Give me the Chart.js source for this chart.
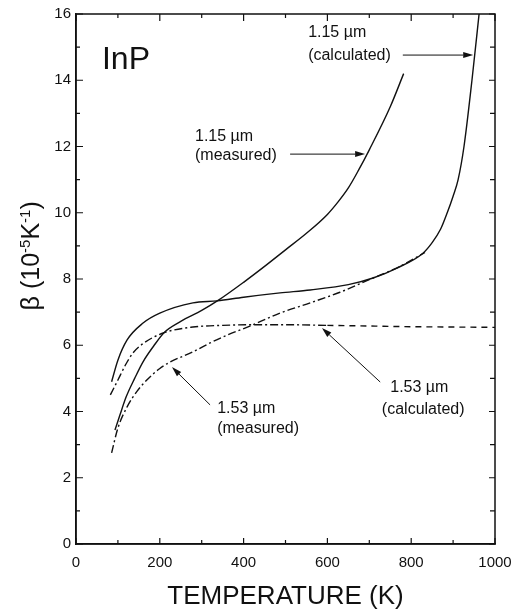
<!DOCTYPE html>
<html><head><meta charset="utf-8">
<script src="https://cdn.jsdelivr.net/npm/chart.js@4/dist/chart.umd.min.js"></script>
<style>html,body{margin:0;padding:0;background:#fff}canvas{display:block}</style>
</head><body>
<canvas id="c" width="513" height="611"></canvas>
<script>
// ---- data (temperature in K, beta in 1e-5 K^-1) ----
const xTickValues = [0, 200, 400, 600, 800, 1000];
const yTickValues = [0, 2, 4, 6, 8, 10, 12, 14, 16];

const meas115T = [93, 105, 120, 140, 160, 185, 210, 250, 300, 340, 400, 450, 500, 550, 600, 625, 650, 675, 700, 750, 782];
const meas115B = [3.44, 3.9, 4.45, 5.0, 5.5, 5.97, 6.38, 6.72, 7.05, 7.36, 7.9, 8.38, 8.88, 9.38, 9.95, 10.32, 10.75, 11.3, 11.9, 13.2, 14.2];

const calc115T = [85, 100, 122, 160, 200, 279, 337, 400, 487, 559, 650, 709, 766, 828, 850, 870, 886, 900, 912, 926, 945, 962];
const calc115B = [4.9, 5.55, 6.16, 6.67, 6.97, 7.28, 7.34, 7.45, 7.58, 7.67, 7.83, 8.03, 8.33, 8.78, 9.1, 9.5, 10.0, 10.5, 11.0, 12.0, 14.0, 16.0];

const calc153T = [82, 100, 120, 136, 160, 208, 279, 350, 415, 500, 600, 700, 800, 900, 1000];
const calc153B = [4.5, 4.95, 5.45, 5.77, 6.05, 6.37, 6.55, 6.6, 6.62, 6.62, 6.6, 6.58, 6.56, 6.55, 6.54];
const calc153DashFrom = 600; // calculated curve switches from dash-dot to dashed

const meas153T = [85, 100, 122, 145, 169, 200, 224, 279, 320, 360, 415, 487, 559, 630, 709, 770, 833];
const meas153B = [2.75, 3.5, 4.14, 4.6, 4.95, 5.3, 5.49, 5.8, 6.07, 6.3, 6.58, 6.97, 7.28, 7.6, 8.03, 8.36, 8.8];

// annotation texts (anchored in data coordinates)
const labels = [
  {text: 'InP', T: 62, B: 14.6, size: 32},
  {text: '1.15 \u00b5m', T: 554, B: 15.43, size: 16},
  {text: '(calculated)', T: 554, B: 14.73, size: 16},
  {text: '1.15 \u00b5m', T: 284, B: 12.29, size: 16},
  {text: '(measured)', T: 284, B: 11.74, size: 16},
  {text: '1.53 \u00b5m', T: 337, B: 4.1, size: 16},
  {text: '(measured)', T: 337, B: 3.47, size: 16},
  {text: '1.53 \u00b5m', T: 750, B: 4.71, size: 16},
  {text: '(calculated)', T: 730, B: 4.05, size: 16}
];
const arrows = [
  {fromT: 780, fromB: 14.76, toT: 948, toB: 14.76},
  {fromT: 511, fromB: 11.77, toT: 690, toB: 11.77},
  {fromT: 320, fromB: 4.2, toT: 229, toB: 5.34},
  {fromT: 726, fromB: 4.89, toT: 587, toB: 6.52}
];

const FONT = '"Liberation Sans", Arial, Helvetica, sans-serif';
const INK = '#111';
const pts = (xs, ys) => xs.map((v, i) => ({x: v, y: ys[i]}));
const DASHDOT = [8, 3, 2, 3];
const DASHED = [6, 5];

const base = {borderColor: INK, borderWidth: 1.4, pointRadius: 0, fill: false,
  cubicInterpolationMode: 'monotone'};

const decor = {
  id: 'decor',
  afterDatasetsDraw(chart) {
    const {ctx, chartArea: a, scales: {x, y}} = chart;
    ctx.save();
    ctx.strokeStyle = INK; ctx.fillStyle = INK;
    ctx.lineWidth = 1.5;
    ctx.strokeRect(a.left, a.top, a.right - a.left, a.bottom - a.top);
    // inward ticks on all four sides
    ctx.lineWidth = 1.2;
    ctx.beginPath();
    const xs = [];
    xTickValues.forEach((v, i) => { xs.push([v, true]); if (i < xTickValues.length - 1) xs.push([(v + xTickValues[i + 1]) / 2, false]); });
    xs.forEach(([v, major]) => {
      const p = x.getPixelForValue(v);
      const Lb = major ? 6 : 4, Lt = major ? 7 : 4;
      ctx.moveTo(p, a.bottom); ctx.lineTo(p, a.bottom - Lb);
      ctx.moveTo(p, a.top); ctx.lineTo(p, a.top + Lt);
    });
    const ys = [];
    yTickValues.forEach((v, i) => { ys.push([v, true]); if (i < yTickValues.length - 1) ys.push([(v + yTickValues[i + 1]) / 2, false]); });
    ys.forEach(([v, major]) => {
      const p = y.getPixelForValue(v);
      ctx.moveTo(a.left, p); ctx.lineTo(a.left + (major ? 7 : 4), p);
      ctx.moveTo(a.right, p); ctx.lineTo(a.right - (major ? 6 : 5), p);
    });
    ctx.stroke();
    // labels
    ctx.textBaseline = 'middle'; ctx.textAlign = 'left';
    labels.forEach(l => {
      ctx.font = l.size + 'px ' + FONT;
      ctx.fillText(l.text, x.getPixelForValue(l.T), y.getPixelForValue(l.B));
    });
    // arrows
    ctx.lineWidth = 1;
    arrows.forEach(ar => {
      const x0 = x.getPixelForValue(ar.fromT), y0 = y.getPixelForValue(ar.fromB);
      const x1 = x.getPixelForValue(ar.toT), y1 = y.getPixelForValue(ar.toB);
      const ang = Math.atan2(y1 - y0, x1 - x0);
      const hl = 10, hw = 3;
      const bx = x1 - hl * Math.cos(ang), by = y1 - hl * Math.sin(ang);
      ctx.beginPath(); ctx.moveTo(x0, y0); ctx.lineTo(bx, by); ctx.stroke();
      ctx.beginPath();
      ctx.moveTo(x1, y1);
      ctx.lineTo(bx + hw * Math.sin(ang), by - hw * Math.cos(ang));
      ctx.lineTo(bx - hw * Math.sin(ang), by + hw * Math.cos(ang));
      ctx.closePath(); ctx.fill();
    });
    // y-axis title with superscripts
    ctx.translate(a.left - 45, y.getPixelForValue(8.7));
    ctx.rotate(-Math.PI / 2);
    const parts = [['\u03b2 (10', 25, 0], ['-5', 15, -9], ['K', 25, 0], ['-1', 15, -9], [')', 25, 0]];
    let w = 0;
    parts.forEach(p => { ctx.font = p[1] + 'px ' + FONT; w += ctx.measureText(p[0]).width; });
    let cx = -w / 2;
    ctx.textAlign = 'left'; ctx.textBaseline = 'alphabetic';
    parts.forEach(p => {
      ctx.font = p[1] + 'px ' + FONT;
      ctx.fillText(p[0], cx, 8 + p[2]);
      cx += ctx.measureText(p[0]).width;
    });
    ctx.restore();
  }
};

new Chart(document.getElementById('c'), {
  type: 'line',
  data: {
    datasets: [
      Object.assign({label: '1.15 \u00b5m (measured)', data: pts(meas115T, meas115B)}, base),
      Object.assign({label: '1.15 \u00b5m (calculated)', data: pts(calc115T, calc115B)}, base),
      Object.assign({label: '1.53 \u00b5m (calculated)', data: pts(calc153T, calc153B), borderDash: DASHDOT,
        segment: {borderDash: c => c.p0.parsed.x >= calc153DashFrom ? DASHED : DASHDOT}}, base),
      Object.assign({label: '1.53 \u00b5m (measured)', data: pts(meas153T, meas153B), borderDash: DASHDOT}, base)
    ]
  },
  options: {
    responsive: false,
    animation: false,
    layout: {padding: {left: 0, top: 14, right: 18, bottom: 0}},
    plugins: {legend: {display: false}, tooltip: {enabled: false}},
    scales: {
      x: {
        type: 'linear', min: 0, max: 1000,
        afterBuildTicks: s => { s.ticks = xTickValues.map(v => ({value: v})); },
        afterFit: s => { s.height = 67; s.paddingLeft = 0; s.paddingRight = 0; },
        grid: {display: false, drawTicks: false},
        border: {display: true, color: INK, width: 1.5},
        ticks: {color: INK, padding: 10, maxRotation: 0, font: {family: FONT, size: 15},
          callback: v => String(v)},
        title: {display: true, text: 'TEMPERATURE (K)', color: INK, padding: {top: 0, bottom: 0},
          font: {family: FONT, size: 26, lineHeight: 1.1}}
      },
      y: {
        type: 'linear', min: 0, max: 16,
        afterBuildTicks: s => { s.ticks = yTickValues.map(v => ({value: v})); },
        afterFit: s => { s.width = 76; s.paddingTop = 0; s.paddingBottom = 0; },
        grid: {display: false, drawTicks: false},
        border: {display: true, color: INK, width: 1.5},
        ticks: {color: INK, padding: 5, font: {family: FONT, size: 15}, callback: v => String(v)},
        title: {display: false}
      }
    }
  },
  plugins: [decor]
});
</script>
</body></html>
